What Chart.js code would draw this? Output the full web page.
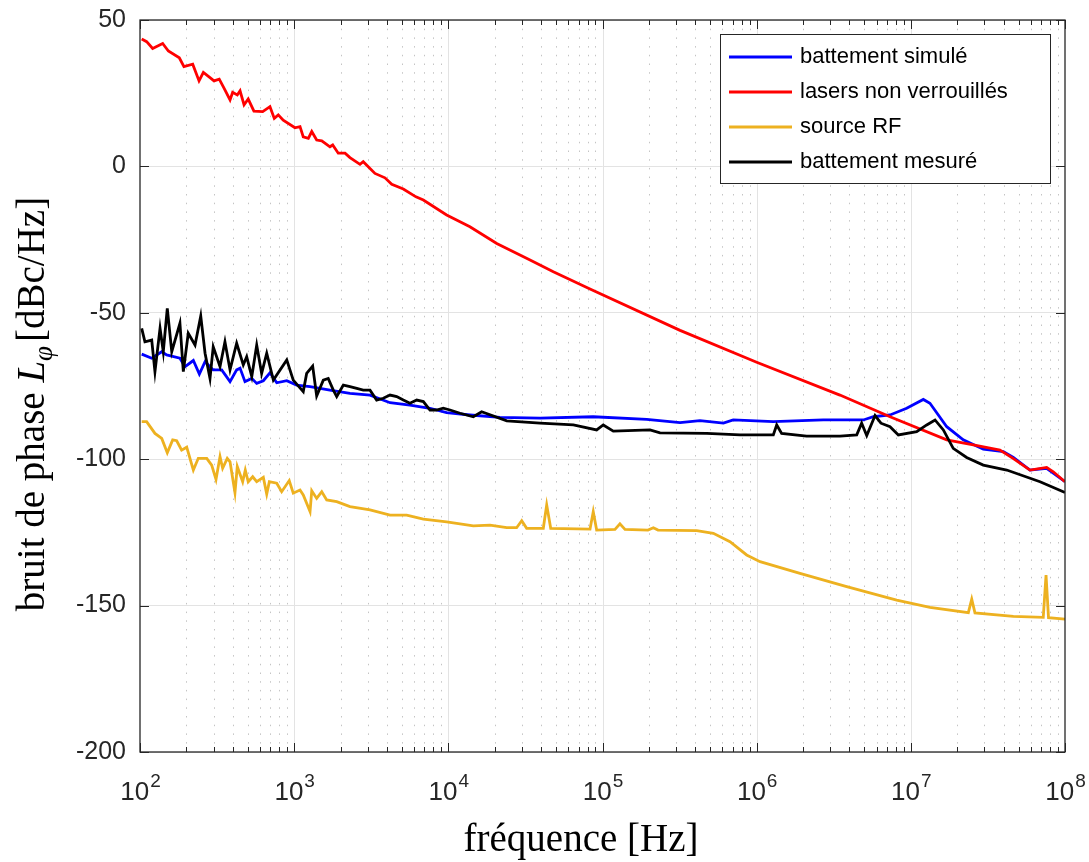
<!DOCTYPE html>
<html>
<head>
<meta charset="utf-8">
<script src="https://cdn.jsdelivr.net/npm/chart.js@4.4.1/dist/chart.umd.min.js"></script>
<style>
  body { margin: 0; background: #fff; }
</style>
</head>
<body>
<canvas id="chart" width="1089" height="862"></canvas>
<script>
// frequencies are stored as log10(f), values in dBc/Hz

let simLogF = [2.011, 2.076, 2.141, 2.173, 2.259, 2.292, 2.346, 2.385, 2.422, 2.475, 2.530, 2.584, 2.627, 2.649, 2.681,
  2.725, 2.757, 2.800, 2.843, 2.887, 2.952, 3.016, 3.103, 3.232, 3.362, 3.492, 3.622, 3.751, 3.881, 3.989, 4.141,
  4.335, 4.595, 4.940, 5.287, 5.503, 5.632, 5.784, 5.848, 6.108, 6.432, 6.692, 6.757, 6.865, 6.973, 7.081, 7.124,
  7.233, 7.340, 7.470, 7.600, 7.665, 7.773, 7.881, 8.000];
let simVal = [-64.1, -65.5, -63.3, -64.4, -65.5, -68.4, -66.3, -70.9, -66.7, -69.5, -69.5, -73.5, -69.5, -68.9, -73.5,
  -72.4, -74.1, -73.2, -70.5, -73.9, -73.2, -74.7, -75.2, -76.4, -77.5, -78.1, -80.7, -81.5, -82.6, -84.1, -84.9,
  -85.7, -86.0, -85.5, -86.4, -87.5, -86.8, -87.7, -86.6, -87.2, -86.6, -86.6, -85.5, -84.9, -82.6, -79.6, -80.9,
  -88.9, -93.4, -96.6, -97.4, -99.4, -103.7, -103.1, -107.7];

let laserLogF = [2.011, 2.043, 2.082, 2.147, 2.184, 2.255, 2.285, 2.342, 2.383, 2.411, 2.454, 2.480, 2.514, 2.545, 2.584,
  2.601, 2.631, 2.649, 2.675, 2.702, 2.739, 2.796, 2.843, 2.871, 2.897, 2.929, 3.005, 3.038, 3.059, 3.092, 3.114,
  3.146, 3.179, 3.232, 3.250, 3.286, 3.330, 3.362, 3.427, 3.448, 3.524, 3.589, 3.633, 3.708, 3.790, 3.838, 3.989,
  4.140, 4.314, 4.530, 4.681, 4.919, 5.503, 6.000, 6.540, 6.865, 7.233, 7.405, 7.578, 7.663, 7.773, 7.881, 7.924, 8.000];
let laserVal = [43.5, 42.6, 40.3, 42.0, 39.4, 37.1, 34.1, 34.9, 29.2, 32.1, 30.3, 29.2, 29.8, 26.7, 22.7,
  25.3, 24.4, 25.8, 21.0, 23.0, 18.9, 18.7, 20.4, 16.4, 17.6, 15.8, 13.2, 13.6, 10.1, 9.6, 11.9,
  9.0, 8.7, 6.7, 7.3, 4.5, 4.5, 3.0, 0.7, 1.6, -2.4, -3.9, -6.1, -7.7, -10.4, -11.5, -16.6,
  -20.6, -26.3, -32.0, -36.0, -41.9, -56.0, -66.9, -78.1, -85.5, -93.4, -95.1, -96.9, -99.7, -103.7, -102.8, -104.3, -107.7];

let rfLogF = [2.011, 2.043, 2.097, 2.141, 2.177, 2.212, 2.238, 2.270, 2.303, 2.346, 2.378, 2.433, 2.465, 2.493, 2.519,
  2.536, 2.566, 2.584, 2.616, 2.631, 2.666, 2.683, 2.702, 2.731, 2.757, 2.800, 2.822, 2.839, 2.887, 2.919, 2.968,
  2.994, 3.038, 3.059, 3.103, 3.114, 3.146, 3.179, 3.211, 3.276, 3.362, 3.492, 3.622, 3.730, 3.838, 3.989, 4.162,
  4.270, 4.379, 4.443, 4.476, 4.508, 4.616, 4.638, 4.664, 4.919, 4.940, 4.962, 5.081, 5.113, 5.146, 5.295, 5.330,
  5.360, 5.611, 5.719, 5.827, 5.935, 6.022, 6.281, 6.584, 6.908, 7.124, 7.373, 7.395, 7.416, 7.665, 7.859, 7.877,
  7.893, 8.000];
let rfVal = [-87.2, -87.2, -91.2, -92.9, -97.8, -93.4, -93.7, -96.9, -95.9, -103.7, -99.7, -99.7, -102.0, -106.9, -99.1,
  -103.1, -99.7, -100.9, -111.4, -102.5, -107.7, -103.7, -107.7, -106.0, -107.7, -106.2, -111.9, -107.7, -108.2, -111.1, -107.3,
  -111.6, -110.5, -112.2, -117.9, -110.8, -113.4, -111.1, -113.9, -114.5, -116.2, -117.3, -119.1, -119.1, -120.5, -121.4, -122.8,
  -122.5, -123.4, -123.4, -121.0, -123.6, -123.6, -115.6, -123.6, -123.9, -117.9, -124.2, -124.0, -122.1, -124.0, -124.2, -123.4,
  -124.2, -124.4, -125.3, -128.2, -132.7, -135.0, -139.0, -143.5, -148.1, -150.6, -152.4, -147.8, -152.5, -153.7, -154.0, -139.6,
  -154.1, -154.6];

let measLogF = [2.011, 2.032, 2.076, 2.097, 2.130, 2.151, 2.177, 2.206, 2.259, 2.281, 2.313, 2.357, 2.394, 2.422, 2.454,
  2.475, 2.519, 2.551, 2.584, 2.627, 2.670, 2.692, 2.725, 2.757, 2.789, 2.822, 2.865, 2.952, 2.994, 3.059, 3.081, 3.120,
  3.146, 3.189, 3.221, 3.254, 3.276, 3.319, 3.362, 3.406, 3.448, 3.492, 3.535, 3.578, 3.622, 3.665, 3.708, 3.751,
  3.795, 3.838, 3.881, 3.924, 3.967, 4.011, 4.076, 4.162, 4.216, 4.379, 4.595,
  4.811, 4.962, 5.005, 5.070, 5.308, 5.373, 5.676, 5.892, 6.108, 6.130, 6.162, 6.324, 6.541, 6.649, 6.681, 6.714,
  6.768, 6.806, 6.865, 6.919, 7.038, 7.103, 7.157, 7.211, 7.275, 7.362, 7.470, 7.622, 7.838, 8.000];
let measVal = [-55.3, -59.9, -59.3, -70.1, -55.3, -63.3, -48.5, -63.3, -53.6, -70.1, -57.0, -61.0, -51.1, -63.8, -72.4,
  -61.6, -68.4, -59.9, -69.5, -60.4, -67.8, -65.0, -71.8, -61.0, -70.7, -63.8, -73.0, -66.1, -73.0, -76.9, -70.7, -68.2,
  -78.4, -73.0, -72.4, -76.4, -78.6, -74.7, -75.2, -75.8, -76.4, -76.4, -79.8, -79.2, -78.1, -78.6, -79.8, -80.9,
  -79.8, -80.3, -83.2, -83.2, -82.6, -83.2, -84.3, -85.5, -83.8, -86.9, -87.7,
  -88.3, -90.0, -88.3, -90.4, -90.0, -91.0, -91.2, -91.7, -91.7, -88.3, -91.2, -92.1, -92.1, -91.7, -87.7, -91.9,
  -85.1, -87.7, -88.9, -91.7, -90.6, -88.3, -86.6, -90.0, -96.3, -99.4, -102.0, -103.7, -107.7, -111.4];

let seriesNames = ['battement simulé', 'lasers non verrouillés', 'source RF', 'battement mesuré'];
let seriesColors = ['#0000ff', '#ff0000', '#edb120', '#000000'];
let yTicks = [-200, -150, -100, -50, 0, 50];
let xDecades = [2, 3, 4, 5, 6, 7, 8];

function toPoints(logF, vals) {
  return logF.map((lf, i) => ({ x: Math.pow(10, lf), y: vals[i] }));
}

let allSeries = [
  toPoints(simLogF, simVal),
  toPoints(laserLogF, laserVal),
  toPoints(rfLogF, rfVal),
  toPoints(measLogF, measVal)
];

let datasets = allSeries.map((pts, i) => ({
  label: seriesNames[i],
  data: pts,
  borderColor: seriesColors[i],
  backgroundColor: seriesColors[i],
  borderWidth: 2.8,
  pointRadius: 0,
  tension: 0,
  order: 4 - i
}));

const AXIS = '#262626';

// grid for the log axis, drawn under the lines
const gridPlugin = {
  id: 'logGrid',
  beforeDatasetsDraw(chart) {
    const ctx = chart.ctx, a = chart.chartArea, xs = chart.scales.x;
    ctx.save();
    ctx.lineWidth = 1;
    for (let d = 0; d < xDecades.length; d++) {
      let base = Math.pow(10, xDecades[d]);
      if (d > 0 && d < xDecades.length - 1) {
        let px = Math.round(xs.getPixelForValue(base)) + 0.5;
        ctx.strokeStyle = '#e3e3e3';
        ctx.setLineDash([]);
        ctx.beginPath(); ctx.moveTo(px, a.top); ctx.lineTo(px, a.bottom); ctx.stroke();
      }
      if (d < xDecades.length - 1) {
        for (let m = 2; m <= 9; m++) {
          let px = Math.round(xs.getPixelForValue(m * base)) + 0.5;
          ctx.strokeStyle = '#c4c4c4';
          ctx.setLineDash([1.5, 7.2]);
          ctx.beginPath(); ctx.moveTo(px, a.top); ctx.lineTo(px, a.bottom); ctx.stroke();
        }
      }
    }
    ctx.restore();
  },
  afterDraw(chart) {
    const ctx = chart.ctx, a = chart.chartArea, xs = chart.scales.x, ys = chart.scales.y;
    ctx.save();
    ctx.strokeStyle = AXIS;
    ctx.lineWidth = 1.3;
    ctx.setLineDash([]);
    ctx.strokeRect(a.left, a.top, a.right - a.left, a.bottom - a.top);

    // inward tick marks
    ctx.lineWidth = 1;
    ctx.beginPath();
    for (let d = 0; d < xDecades.length; d++) {
      let base = Math.pow(10, xDecades[d]);
      let px = Math.round(xs.getPixelForValue(base)) + 0.5;
      ctx.moveTo(px, a.bottom); ctx.lineTo(px, a.bottom - 9);
      ctx.moveTo(px, a.top); ctx.lineTo(px, a.top + 9);
      if (d < xDecades.length - 1) {
        for (let m = 2; m <= 9; m++) {
          let mx = Math.round(xs.getPixelForValue(m * base)) + 0.5;
          ctx.moveTo(mx, a.bottom); ctx.lineTo(mx, a.bottom - 5);
          ctx.moveTo(mx, a.top); ctx.lineTo(mx, a.top + 5);
        }
      }
    }
    yTicks.forEach(v => {
      let py = Math.round(ys.getPixelForValue(v)) + 0.5;
      ctx.moveTo(a.left, py); ctx.lineTo(a.left + 9, py);
      ctx.moveTo(a.right, py); ctx.lineTo(a.right - 9, py);
    });
    ctx.stroke();

    // x tick labels 10^n
    ctx.fillStyle = AXIS;
    ctx.textBaseline = 'alphabetic';
    ctx.textAlign = 'left';
    xDecades.forEach(e => {
      let px = xs.getPixelForValue(Math.pow(10, e));
      ctx.font = '26px "Liberation Sans", Arial, sans-serif';
      let w1 = ctx.measureText('10').width;
      ctx.font = '19px "Liberation Sans", Arial, sans-serif';
      let w2 = ctx.measureText(String(e)).width;
      let x0 = px - (w1 + w2) / 2;
      ctx.font = '26px "Liberation Sans", Arial, sans-serif';
      ctx.fillText('10', x0, 800);
      ctx.font = '19px "Liberation Sans", Arial, sans-serif';
      ctx.fillText(String(e), x0 + w1 + 1, 787);
    });

    // x axis title
    ctx.fillStyle = '#000';
    ctx.font = '39px "Liberation Serif", "Times New Roman", serif';
    ctx.textAlign = 'center';
    ctx.fillText('fréquence [Hz]', 581, 851);

    // y axis title with italic L and subscript phi
    ctx.save();
    ctx.translate(44, 404);
    ctx.rotate(-Math.PI / 2);
    let parts = [
      { t: 'bruit de phase ', f: '39px "Liberation Serif", serif', dy: 0 },
      { t: 'L', f: 'italic 39px "Liberation Serif", serif', dy: 0 },
      { t: 'φ', f: 'italic 27px "Liberation Serif", serif', dy: 8 },
      { t: '[dBc/Hz]', f: '39px "Liberation Serif", serif', dy: 0 }
    ];
    let total = 0;
    parts.forEach(p => { ctx.font = p.f; p.w = ctx.measureText(p.t).width; total += p.w; });
    total += 4;
    let cx = -total / 2;
    ctx.textAlign = 'left';
    parts.forEach((p, i) => {
      ctx.font = p.f;
      ctx.fillText(p.t, cx, p.dy);
      cx += p.w + (i == 2 ? 4 : 0);
    });
    ctx.restore();

    // legend box
    let lx = 720, ly = 34, lw = 330, lh = 149;
    ctx.fillStyle = '#fff';
    ctx.fillRect(lx, ly, lw, lh);
    ctx.strokeStyle = AXIS;
    ctx.lineWidth = 1;
    ctx.strokeRect(lx + 0.5, ly + 0.5, lw, lh);
    ctx.font = '22px "Liberation Sans", Arial, sans-serif';
    ctx.textAlign = 'left';
    ctx.textBaseline = 'middle';
    chart.data.datasets.forEach((ds, i) => {
      let ry = 57 + i * 35;
      ctx.strokeStyle = ds.borderColor;
      ctx.lineWidth = 2.8;
      ctx.beginPath(); ctx.moveTo(729, ry); ctx.lineTo(792, ry); ctx.stroke();
      ctx.fillStyle = '#000';
      ctx.fillText(ds.label, 800, ry);
    });
    ctx.restore();
  }
};

new Chart(document.getElementById('chart'), {
  type: 'line',
  data: { datasets: datasets },
  options: {
    responsive: false,
    animation: false,
    devicePixelRatio: 1,
    layout: { padding: { left: 0, top: 20, right: 24, bottom: 0 } },
    plugins: { legend: { display: false }, tooltip: { enabled: false } },
    scales: {
      x: {
        type: 'logarithmic',
        min: 100,
        max: 1e8,
        grid: { display: false },
        border: { display: false },
        ticks: { display: false },
        afterFit(scale) { scale.height = 110; scale.paddingLeft = 0; scale.paddingRight = 0; }
      },
      y: {
        min: -200,
        max: 50,
        grid: { color: '#e3e3e3', drawTicks: false },
        border: { display: false },
        ticks: {
          stepSize: 50,
          padding: 14,
          color: AXIS,
          font: { family: '"Liberation Sans", Arial, sans-serif', size: 25 }
        },
        afterFit(scale) { scale.width = 140; scale.paddingTop = 0; scale.paddingBottom = 0; }
      }
    }
  },
  plugins: [gridPlugin]
});
</script>
</body>
</html>
